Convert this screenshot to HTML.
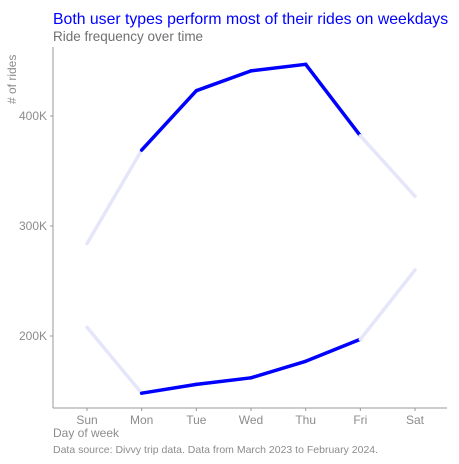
<!DOCTYPE html>
<html><head><meta charset="utf-8"><style>
body{margin:0;background:#fff;}
svg{display:block;font-family:"Liberation Sans",sans-serif;}
</style></head><body>
<svg id="chart" width="459" height="464">
<text x="53" y="24" font-size="15.8" fill="#0000ff">Both user types perform most of their rides on weekdays</text>
<text x="53" y="41" font-size="13.5" fill="#707070">Ride frequency over time</text>
<text transform="translate(16,104) rotate(-90)" font-size="12" fill="#8c8c8c"># of rides</text>
<text x="53" y="437" font-size="12" fill="#8c8c8c">Day of week</text>
<text x="53" y="453" font-size="10.5" fill="#8c8c8c">Data source: Divvy trip data. Data from March 2023 to February 2024.</text>
<line x1="53" y1="47" x2="53" y2="408" stroke="#999" stroke-width="1"/>
<line x1="53" y1="408" x2="447" y2="408" stroke="#999" stroke-width="1"/>
<g id="axes"></g><g id="series"></g>
</svg>
<script>
const days=["Sun","Mon","Tue","Wed","Thu","Fri","Sat"];
const casualRides=[284,369,423,441,447,382,327];
const memberRides=[208,148,156,162,177,197,260];
const yTicks=[200,300,400];
const yTickLabels=["200K","300K","400K"];
const NS="http://www.w3.org/2000/svg";
const xs=i=>87+i*54.67;
const ys=v=>116+(400-v)*1.1;
const axes=document.getElementById('axes'),series=document.getElementById('series');
function mk(t,a,p){const e=document.createElementNS(NS,t);for(const k in a)e.setAttribute(k,a[k]);p.appendChild(e);return e;}
yTicks.forEach((v,i)=>{
 const l=mk('line',{x1:50,x2:53,y1:ys(v),y2:ys(v),stroke:'#999'},axes);
 
 
 const t=mk('text',{x:47,y:ys(v)+4,'text-anchor':'end','font-size':12,fill:'#8c8c8c'},axes);
 t.textContent=yTickLabels[i];
 
 
});
days.forEach((d,i)=>{
 const l=mk('line',{x1:xs(i),x2:xs(i),y1:408,y2:411,stroke:'#999'},axes);
 
 
 const t=mk('text',{x:xs(i),y:424,'text-anchor':'middle','font-size':12,fill:'#8c8c8c'},axes);
 t.textContent=d;
 
 
});
[casualRides,memberRides].forEach((arr,s)=>{
 for(let i=0;i<arr.length-1;i++){
  const weekday=i>=1&&i<=4;
  const seg=mk('line',{x1:xs(i),y1:ys(arr[i]),x2:xs(i+1),y2:ys(arr[i+1]),stroke:weekday?'#0000ff':'#e6e6fa','stroke-width':3.5,'stroke-linecap':'round'},series);
  
  
 }
});
</script>
</body></html>
